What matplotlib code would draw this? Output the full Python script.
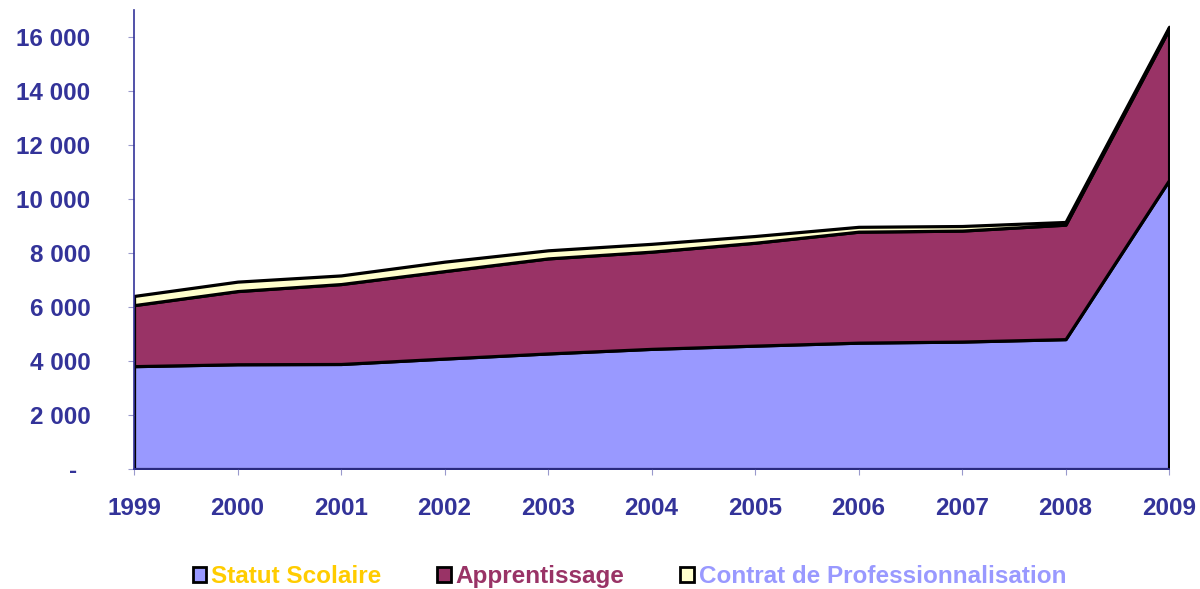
import matplotlib
matplotlib.use("Agg")
import matplotlib.pyplot as plt
from matplotlib.ticker import FuncFormatter

years = [1999, 2000, 2001, 2002, 2003, 2004, 2005, 2006, 2007, 2008, 2009]
statut_scolaire = [3810, 3880, 3890, 4090, 4280, 4450, 4570, 4680, 4720, 4810, 10700]
apprentissage = [2260, 2710, 2960, 3240, 3520, 3600, 3810, 4110, 4110, 4240, 5600]
contrat_pro = [340, 350, 320, 350, 300, 290, 250, 180, 170, 100, 80]

labels = ["Statut Scolaire", "Apprentissage", "Contrat de Professionnalisation"]
fills = ["#9999FF", "#993366", "#FFFFCC"]
text_colors = ["#FFCC00", "#993366", "#9999FF"]
AXIS = "#333399"
FS = 17.5

plt.rcParams["font.family"] = ["Liberation Sans", "DejaVu Sans"]

fig = plt.figure(figsize=(12, 5.89), dpi=100)
ax = fig.add_axes([0.1117, 0.2037, 0.8625, 0.7793])

ax.stackplot(years, statut_scolaire, apprentissage, contrat_pro,
             colors=fills, edgecolor="black", linewidth=2.3, labels=labels)

ax.set_xlim(1999, 2009)
ax.set_ylim(0, 17000)
ax.set_yticks(range(0, 17000, 2000))
ax.set_xticks(years)
# excel-style accounting format: zero shown as a dash
ax.yaxis.set_major_formatter(FuncFormatter(
    lambda v, p: "-  " if v == 0 else f"{int(v):,}".replace(",", " ")))

for s in ("top", "right"):
    ax.spines[s].set_visible(False)
for s in ("left", "bottom"):
    ax.spines[s].set_color(AXIS)
    ax.spines[s].set_linewidth(1.2)

ax.tick_params(axis="y", direction="out", length=4.5, color="#9999CC", pad=27,
               labelsize=FS, labelcolor=AXIS)
ax.tick_params(axis="x", direction="out", length=4.5, color="#9999CC", pad=16,
               labelsize=FS, labelcolor=AXIS)
for t in ax.get_xticklabels() + ax.get_yticklabels():
    t.set_fontweight("bold")

leg = fig.legend(loc="center", bbox_to_anchor=(0.5246, 0.021), ncol=3,
                 frameon=False, handlelength=0.55, handleheight=0.6,
                 handletextpad=0.2, columnspacing=2.3, borderpad=0,
                 prop={"size": FS, "weight": "bold"})
for txt, c in zip(leg.get_texts(), text_colors):
    txt.set_color(c)
for h in leg.legend_handles:
    h.set_edgecolor("black")
    h.set_linewidth(2)

fig.savefig("out.png", dpi=100)
